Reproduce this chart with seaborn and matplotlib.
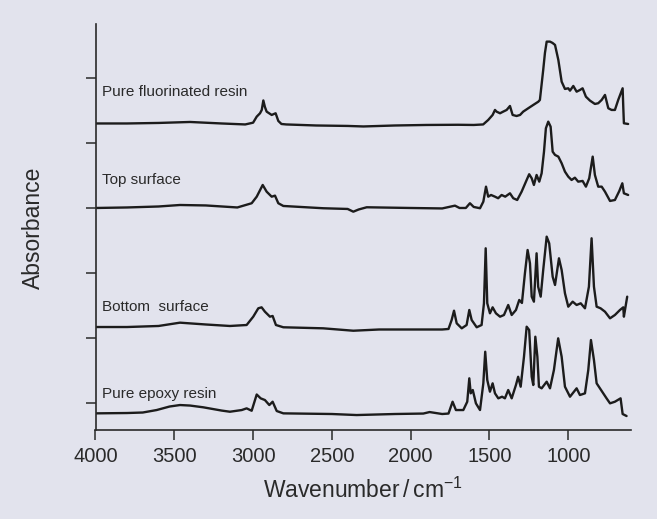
import matplotlib
matplotlib.use("Agg")
import matplotlib.pyplot as plt
import numpy as np
import pandas as pd
import seaborn as sns

# ---- FTIR spectra (wavenumber in cm-1, absorbance in arbitrary units) ----
fluor_wn = [4000, 3800, 3600, 3400, 3200, 3050, 3000, 2977, 2956, 2945,
            2935, 2925, 2914, 2882, 2857, 2840, 2820, 2790, 2600, 2400,
            2300, 2100, 1900, 1700, 1600, 1540, 1508, 1480, 1465, 1455,
            1433, 1413, 1391, 1370, 1353, 1328, 1306, 1286, 1254, 1222,
            1190, 1180, 1159, 1148, 1137, 1116, 1100, 1084, 1063, 1042,
            1021, 1000, 989, 968, 947, 926, 909, 888, 862, 831,
            810, 788, 767, 746, 725, 704, 683, 655, 651, 647, 620]
fluor_abs = [0.023, 0.023, 0.031, 0.046, 0.023, 0.008, 0.035, 0.128, 0.180, 0.231,
             0.377, 0.277, 0.205, 0.154, 0.180, 0.062, 0.015, 0.008, -0.008, -0.015,
             -0.023, -0.008, 0.0, 0.003, 0.0, 0.008, 0.077, 0.154, 0.231, 0.205,
             0.180, 0.205, 0.231, 0.292, 0.154, 0.138, 0.154, 0.205, 0.257, 0.308,
             0.358, 0.385, 0.846, 1.108, 1.282, 1.282, 1.262, 1.231, 1.0, 0.666,
             0.554, 0.564, 0.528, 0.600, 0.512, 0.538, 0.564, 0.435, 0.374, 0.323,
             0.334, 0.385, 0.462, 0.257, 0.231, 0.231, 0.385, 0.564, 0.282, 0.026, 0.015]

top_wn = [4000, 3800, 3600, 3464, 3300, 3100, 3009, 2977, 2939, 2914,
          2882, 2861, 2840, 2808, 2555, 2400, 2364, 2330, 2279, 2000,
          1800, 1719, 1690, 1650, 1624, 1600, 1560, 1539, 1522, 1508,
          1490, 1465, 1445, 1423, 1400, 1370, 1349, 1324, 1296, 1264,
          1248, 1232, 1218, 1201, 1184, 1169, 1154, 1142, 1127, 1112,
          1099, 1084, 1063, 1042, 1021, 1000, 979, 958, 937, 909,
          888, 867, 845, 831, 810, 788, 767, 735, 704, 676,
          657, 647, 620]
top_abs = [-0.008, 0.0, 0.015, 0.038, 0.031, 0.0, 0.065, 0.166, 0.346, 0.243,
           0.166, 0.182, 0.065, 0.023, -0.012, -0.023, -0.065, -0.031, 0.003, -0.008,
           -0.015, 0.028, -0.008, -0.008, 0.065, 0.008, -0.012, 0.089, 0.320, 0.166,
           0.192, 0.166, 0.142, 0.192, 0.166, 0.218, 0.142, 0.115, 0.243, 0.423,
           0.511, 0.449, 0.346, 0.5, 0.397, 0.526, 0.858, 1.218, 1.320, 1.243,
           0.858, 0.808, 0.782, 0.680, 0.551, 0.474, 0.423, 0.458, 0.397, 0.408,
           0.320, 0.449, 0.782, 0.5, 0.320, 0.320, 0.243, 0.1, 0.115, 0.254,
           0.372, 0.218, 0.192]

bot_wn = [4000, 3800, 3600, 3464, 3300, 3147, 3041, 2999, 2967, 2946,
          2925, 2893, 2876, 2855, 2808, 2555, 2364, 2200, 2000, 1800,
          1760, 1740, 1725, 1708, 1676, 1645, 1628, 1613, 1581, 1550,
          1535, 1524, 1514, 1497, 1480, 1459, 1433, 1408, 1381, 1359,
          1332, 1311, 1294, 1275, 1258, 1243, 1232, 1218, 1201, 1191,
          1175, 1159, 1137, 1121, 1099, 1084, 1059, 1042, 1021, 1000,
          972, 947, 921, 894, 869, 852, 837, 820, 795, 767,
          735, 704, 672, 651, 647, 626]
bot_abs = [0.015, 0.015, 0.031, 0.082, 0.054, 0.031, 0.046, 0.174, 0.303, 0.318,
           0.251, 0.174, 0.185, 0.046, 0.011, -0.005, -0.042, -0.023, -0.023, -0.023,
           -0.015, 0.123, 0.266, 0.072, -0.005, 0.046, 0.277, 0.123, 0.011, 0.046,
           0.380, 1.226, 0.380, 0.226, 0.318, 0.226, 0.174, 0.2, 0.354, 0.2,
           0.277, 0.431, 0.385, 0.842, 1.2, 0.995, 0.482, 0.405, 1.149, 0.635,
           0.482, 0.892, 1.405, 1.303, 0.789, 0.662, 1.072, 0.892, 0.534, 0.328,
           0.405, 0.354, 0.380, 0.303, 0.635, 1.380, 0.635, 0.328, 0.303, 0.251,
           0.149, 0.2, 0.277, 0.318, 0.174, 0.482]

epo_wn = [4000, 3800, 3700, 3612, 3530, 3464, 3400, 3316, 3200, 3147,
          3072, 3041, 3009, 2977, 2952, 2925, 2897, 2876, 2850, 2808,
          2500, 2343, 2100, 1920, 1880, 1800, 1760, 1734, 1713, 1666,
          1641, 1628, 1619, 1606, 1586, 1560, 1539, 1527, 1514, 1497,
          1480, 1465, 1444, 1420, 1402, 1381, 1359, 1332, 1318, 1302,
          1281, 1264, 1248, 1232, 1222, 1209, 1196, 1186, 1169, 1137,
          1116, 1091, 1064, 1042, 1021, 989, 947, 926, 894, 873,
          856, 837, 820, 799, 778, 757, 735, 704, 668, 655, 630]
epo_abs = [-0.005, 0.0, 0.008, 0.046, 0.1, 0.123, 0.115, 0.088, 0.038, 0.02,
           0.046, 0.072, 0.035, 0.285, 0.226, 0.2, 0.123, 0.174, 0.031, -0.005,
           -0.015, -0.031, -0.015, -0.008, 0.015, -0.015, -0.008, 0.174, 0.046, 0.046,
           0.174, 0.534, 0.303, 0.354, 0.149, 0.046, 0.457, 0.943, 0.508, 0.328,
           0.457, 0.303, 0.226, 0.251, 0.226, 0.354, 0.226, 0.431, 0.558, 0.405,
           0.866, 1.328, 1.277, 0.558, 0.431, 1.174, 0.866, 0.405, 0.380, 0.482,
           0.380, 0.662, 1.149, 0.866, 0.405, 0.251, 0.380, 0.277, 0.303, 0.662,
           1.123, 0.815, 0.457, 0.380, 0.303, 0.226, 0.149, 0.174, 0.226, -0.015, -0.046]

sample_names = ["Pure fluorinated resin", "Top surface", "Bottom  surface", "Pure epoxy resin"]
stack_offsets = [4.277, 3.008, 1.154, -0.154]
label_heights = [4.723, 3.369, 1.415, 0.077]
x_ticks = [4000, 3500, 3000, 2500, 2000, 1500, 1000]

spectra = [(fluor_wn, fluor_abs), (top_wn, top_abs), (bot_wn, bot_abs), (epo_wn, epo_abs)]

frames = []
for name, (wn, ab), off in zip(sample_names, spectra, stack_offsets):
    frames.append(pd.DataFrame({"sample": name,
                                "wavenumber": wn,
                                "signal": np.asarray(ab) + off}))
data = pd.concat(frames, ignore_index=True)

# ---- styling ----
sns.set_style("ticks")
plt.rcParams["font.family"] = ["Liberation Sans", "DejaVu Sans"]
plt.rcParams["mathtext.fontset"] = "custom"
plt.rcParams["mathtext.rm"] = "Liberation Sans"

bg = "#e2e3ed"
ink = "#1c1c1c"

fig = plt.figure(figsize=(6.57, 5.19), dpi=100, facecolor=bg)
ax = fig.add_axes([95.5 / 657, 89 / 519, 535.8 / 657, 406 / 519])
ax.set_facecolor(bg)

for name in sample_names:
    sub = data[data["sample"] == name]
    sns.lineplot(data=sub, x="wavenumber", y="signal", ax=ax, color=ink,
                 linewidth=1.7, sort=False, estimator=None, legend=False)

ax.set_xlim(4000, 600)
ax.set_ylim(-0.415, 5.83)
ax.set_xticks(x_ticks)
ax.set_xticklabels([str(t) for t in x_ticks])
ax.set_yticks([0, 1, 2, 3, 4, 5])
ax.set_yticklabels([])
ax.set_xlabel("")
ax.set_ylabel("")

for side in ("top", "right"):
    ax.spines[side].set_visible(False)
for side in ("left", "bottom"):
    ax.spines[side].set_color("#2a2a2a")
    ax.spines[side].set_linewidth(1.2)

ax.tick_params(axis="x", direction="out", length=7, width=1.1, color="#2a2a2a",
               labelsize=14.5, labelcolor="#2a2a2a", pad=5.5)
ax.tick_params(axis="y", direction="out", length=7, width=1.1, color="#2a2a2a")

for name, yl in zip(sample_names, label_heights):
    ax.text(3961, yl, name, fontsize=11, color="#2a2a2a", ha="left", va="baseline")

fig.text(363 / 657, 1 - 490 / 519, "Wavenumber$\\,$/$\\,$cm$^{\\mathregular{-1}}$",
         fontsize=16.5, color="#2a2a2a", ha="center", va="center")
fig.text(33 / 657, 1 - 228 / 519, "Absorbance", rotation=90,
         fontsize=16.5, color="#2a2a2a", ha="center", va="center")

fig.savefig("out.png", dpi=100, facecolor=bg)
